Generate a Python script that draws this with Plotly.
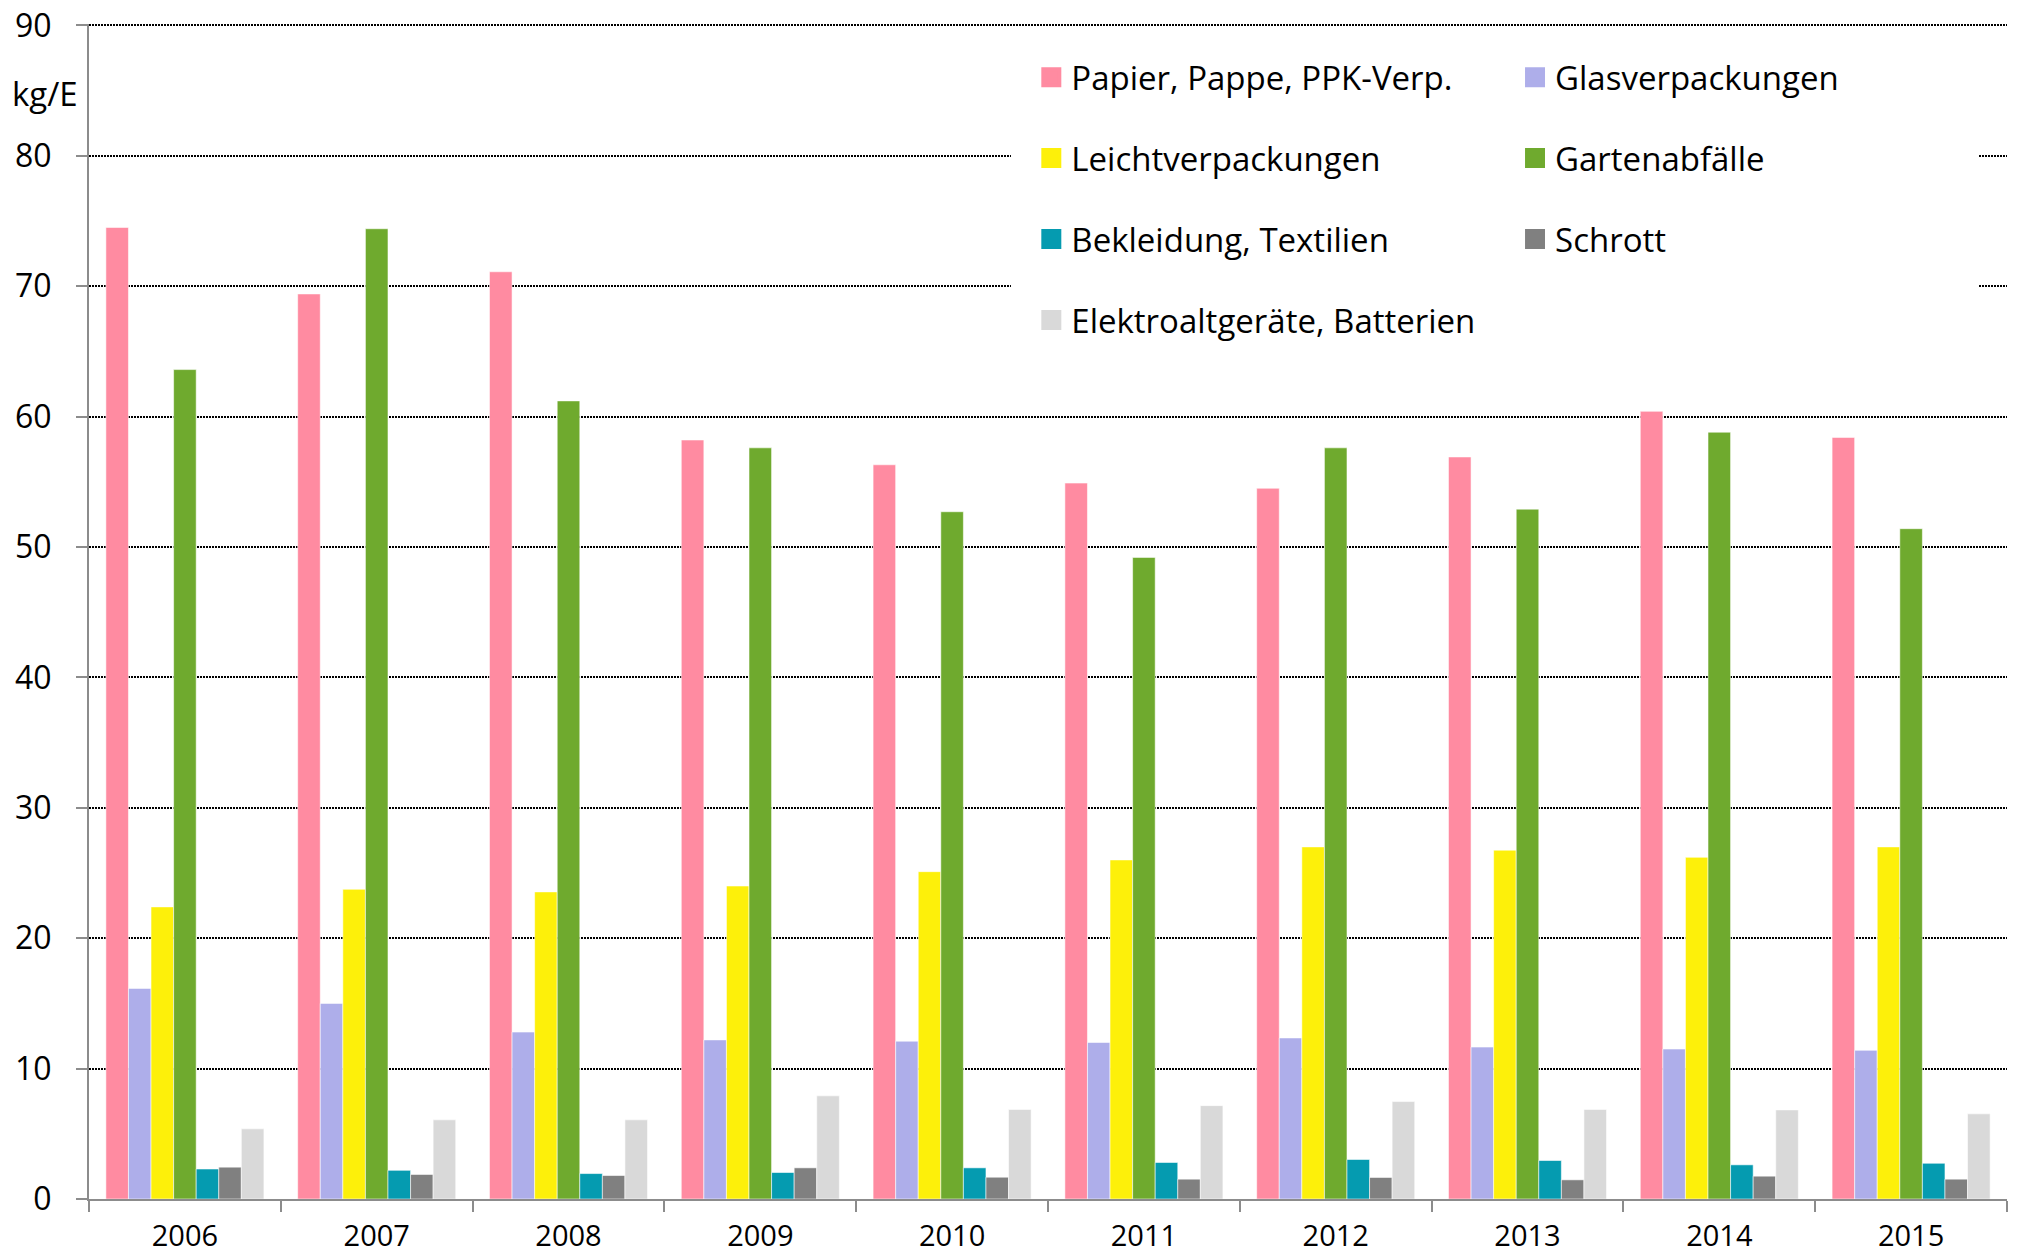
import plotly.graph_objects as go

# Separately collected waste per inhabitant (kg/E), 2006-2015
years = ["2006", "2007", "2008", "2009", "2010", "2011", "2012", "2013", "2014", "2015"]

papier = [74.5, 69.4, 71.1, 58.2, 56.3, 54.9, 54.5, 56.9, 60.4, 58.4]
glas = [16.15, 15.0, 12.8, 12.2, 12.1, 12.0, 12.35, 11.65, 11.5, 11.4]
leicht = [22.4, 23.75, 23.55, 24.0, 25.1, 26.0, 27.0, 26.75, 26.2, 27.0]
garten = [63.6, 74.4, 61.2, 57.6, 52.7, 49.2, 57.6, 52.9, 58.8, 51.4]
textil = [2.3, 2.2, 1.95, 2.03, 2.39, 2.8, 3.03, 2.95, 2.62, 2.74]
schrott = [2.44, 1.88, 1.8, 2.39, 1.67, 1.52, 1.65, 1.47, 1.75, 1.52]
elektro = [5.38, 6.07, 6.07, 7.91, 6.86, 7.16, 7.47, 6.86, 6.83, 6.53]

series_names = [
    "Papier, Pappe, PPK-Verp.",
    "Glasverpackungen",
    "Leichtverpackungen",
    "Gartenabfälle",
    "Bekleidung, Textilien",
    "Schrott",
    "Elektroaltgeräte, Batterien",
]
series_values = [papier, glas, leicht, garten, textil, schrott, elektro]
series_colors = ["#FF8BA1", "#AEAEEA", "#FDF00A", "#6FAA2E", "#059BB0", "#808080", "#D9D9D9"]
# legend column for each series (two-column legend)
legend_column = ["legend", "legend2", "legend", "legend2", "legend", "legend2", "legend"]

FONT = "Open Sans"
AXIS_GRAY = "#8C8C8C"

fig = go.Figure()

for name, vals, col in zip(series_names, series_values, series_colors):
    fig.add_trace(go.Bar(
        x=years, y=vals, name=name,
        marker=dict(color=col, line=dict(color="rgba(255,255,255,0.55)", width=1)),
        showlegend=False,
    ))

# legend entries with large square swatches
for name, col, leg in zip(series_names, series_colors, legend_column):
    fig.add_trace(go.Scatter(
        x=[years[0]], y=[None], mode="markers", name=name,
        marker=dict(symbol="square", size=16, color=col, line=dict(color=col, width=4)),
        legend=leg, legendgroup=name, showlegend=True, hoverinfo="skip",
    ))

legend_common = dict(
    orientation="v", xanchor="left", yanchor="top",
    bgcolor="rgba(0,0,0,0)", borderwidth=0,
    font=dict(family=FONT, size=33, color="#000000"),
    tracegroupgap=35, itemwidth=30,
)

fig.update_layout(
    width=2019, height=1256,
    margin=dict(l=89, r=12, t=24, b=57),
    paper_bgcolor="white", plot_bgcolor="white",
    barmode="group", bargap=0.176, bargroupgap=0,
    font=dict(family=FONT, size=29, color="#000000"),
    legend=dict(x=0.4913, y=0.9785, **legend_common),
    legend2=dict(x=0.7435, y=0.9785, **legend_common),
    xaxis=dict(
        type="category", range=[-0.5, len(years) - 0.5],
        showline=True, linecolor=AXIS_GRAY, linewidth=2,
        ticks="outside", tickson="boundaries", ticklen=11, tickwidth=2, tickcolor=AXIS_GRAY,
        tickfont=dict(family=FONT, size=29, color="#000000"),
        ticklabelstandoff=10, automargin=False,
        showgrid=False, zeroline=False,
    ),
    yaxis=dict(
        range=[0, 90.1], tickvals=[0, 10, 20, 30, 40, 50, 60, 70, 80, 90],
        showline=True, linecolor=AXIS_GRAY, linewidth=2,
        ticks="outside", ticklen=11, tickwidth=2, tickcolor=AXIS_GRAY,
        tickfont=dict(family=FONT, size=32, color="#000000"),
        ticklabelstandoff=18, automargin=False,
        showgrid=True, gridcolor="#000000", gridwidth=2, griddash="2px,1px",
        zeroline=False,
    ),
    shapes=[dict(
        type="rect", xref="paper", yref="paper",
        x0=0.4807, x1=0.9854, y0=0.727, y1=0.9974,
        fillcolor="white", line=dict(width=0), layer="above",
    )],
    annotations=[dict(
        text="kg/E", xref="paper", yref="paper", x=-0.0229, y=0.941,
        xanchor="center", yanchor="middle", showarrow=False,
        font=dict(family=FONT, size=33, color="#000000"),
    )],
)

fig.write_html("out.html")
